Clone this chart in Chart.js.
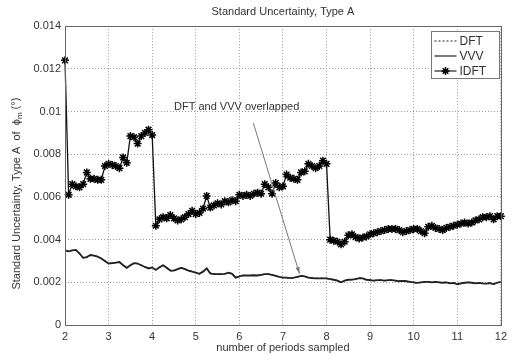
<!DOCTYPE html>
<html>
<head>
<meta charset="utf-8">
<script src="https://cdn.jsdelivr.net/npm/chart.js@4.4.1/dist/chart.umd.min.js"></script>
<style>
  html, body { margin: 0; padding: 0; background: #fff; }
  canvas { display: block; }
</style>
</head>
<body>
<canvas id="chart" width="512" height="361"></canvas>
<script>
// number of periods sampled: 2 .. 12, one sample every 1/12 period
const periods = [];
for (let i = 0; i <= 120; i++) periods.push(2 + i / 12);

const xTicks = [2, 3, 4, 5, 6, 7, 8, 9, 10, 11, 12];
const yTicks = [0, 0.002, 0.004, 0.006, 0.008, 0.01, 0.012, 0.014];

// IDFT (line with * markers)
const idftValues = [
  0.0124, 0.0061, 0.0066, 0.0065, 0.00645, 0.0066, 0.00715, 0.00685, 0.00685, 0.0068,
  0.0068, 0.00745, 0.00755, 0.0075, 0.00745, 0.00735, 0.00785, 0.0076, 0.00885, 0.0088,
  0.0085, 0.00885, 0.009, 0.00915, 0.0089,
  0.00465, 0.00495, 0.00505, 0.005, 0.00515, 0.005, 0.0049, 0.00495, 0.00505, 0.0052,
  0.00535, 0.0052, 0.00525, 0.00545, 0.00605, 0.0055, 0.0056, 0.0057, 0.00565, 0.0058,
  0.00575, 0.00585, 0.0058, 0.0061, 0.00605, 0.0061, 0.00605, 0.00615, 0.0062, 0.00615,
  0.0066, 0.00645, 0.00615, 0.00665, 0.00645, 0.0065, 0.00705, 0.0069, 0.00685, 0.0068,
  0.00715, 0.0072, 0.00755, 0.00745, 0.00735, 0.00745, 0.0077, 0.00755,
  0.004, 0.00395, 0.0039, 0.00378, 0.0039, 0.0042, 0.00425, 0.00412, 0.00405, 0.0041,
  0.00415, 0.00425, 0.0043, 0.00435, 0.0044, 0.00445, 0.0045, 0.0045, 0.0045, 0.00445,
  0.00435, 0.0044, 0.00445, 0.0045, 0.0045, 0.0044, 0.0043, 0.0046, 0.00465, 0.00455,
  0.0045, 0.00445, 0.00455, 0.0046, 0.00465, 0.0047, 0.00475, 0.0048, 0.00475, 0.0048,
  0.0049, 0.00495, 0.00505, 0.00505, 0.0051, 0.00495, 0.0051, 0.0051
];

// VVV (solid line)
const vvvValues = [
  0.0035, 0.00345, 0.0035, 0.00352, 0.00335, 0.00315, 0.00318, 0.00328, 0.00325, 0.0032,
  0.00312, 0.003, 0.00288, 0.0029, 0.00292, 0.00295, 0.0028, 0.00268, 0.0028, 0.0029,
  0.00288, 0.0028, 0.00272, 0.00265, 0.0027, 0.00258, 0.0027, 0.0028, 0.00268, 0.00255,
  0.00255, 0.00262, 0.00268, 0.00262, 0.00255, 0.0025, 0.00245, 0.0024, 0.0025, 0.00265,
  0.00242, 0.00238, 0.00238, 0.00238, 0.0024, 0.00245, 0.0024, 0.00222, 0.00228, 0.00232,
  0.00232, 0.00232, 0.00233, 0.00232, 0.00235, 0.00238, 0.00238, 0.00235, 0.0023, 0.00225,
  0.00222, 0.00222, 0.0022, 0.00222, 0.00225, 0.0023, 0.00228, 0.00222, 0.0022, 0.00218,
  0.00218, 0.00218, 0.00218, 0.00215, 0.00212, 0.00208, 0.002, 0.00208, 0.00212, 0.00213,
  0.00215, 0.0022, 0.00218, 0.00212, 0.0021, 0.00208, 0.0021, 0.0021, 0.00208, 0.0021,
  0.0021, 0.00208, 0.00205, 0.00207, 0.00205, 0.00202, 0.002, 0.00197, 0.002, 0.00202,
  0.00202, 0.002, 0.00202, 0.002, 0.00198, 0.002, 0.00195, 0.00197, 0.00191, 0.00195,
  0.00198, 0.002, 0.00198, 0.00195, 0.00197, 0.00195, 0.00194, 0.00196, 0.00192, 0.00198,
  0.00202
];

// DFT lies exactly under VVV ("DFT and VVV overlapped")
const dftValues = vvvValues;

// annotation text anchor and arrow (data coordinates)
const noteText = 'DFT and VVV overlapped';
const notePos = [4.5, 0.01022];
const arrowFrom = [6.32, 0.00947];
const arrowTo = [7.38, 0.0024];

const FONT = '"Liberation Sans", Arial, sans-serif';
const TEXT = '#333';

const toPoints = vals => vals.map((v, i) => ({ x: periods[i], y: v }));

const overlay = {
  id: 'overlay',
  afterDraw(chart) {
    const { ctx, chartArea: ca, scales: { x, y } } = chart;
    ctx.save();

    // box round the plot
    ctx.strokeStyle = '#666';
    ctx.lineWidth = 1;
    ctx.setLineDash([]);
    ctx.strokeRect(Math.round(ca.left) + 0.5, Math.round(ca.top) + 0.5,
      Math.round(ca.right - ca.left), Math.round(ca.bottom - ca.top));

    // annotation
    ctx.fillStyle = TEXT;
    ctx.font = '11px ' + FONT;
    ctx.textBaseline = 'middle';
    ctx.textAlign = 'left';
    ctx.fillText(noteText, x.getPixelForValue(notePos[0]), y.getPixelForValue(notePos[1]));

    const x1 = x.getPixelForValue(arrowFrom[0]), y1 = y.getPixelForValue(arrowFrom[1]);
    const x2 = x.getPixelForValue(arrowTo[0]), y2 = y.getPixelForValue(arrowTo[1]);
    ctx.strokeStyle = '#777';
    ctx.fillStyle = '#777';
    ctx.beginPath();
    ctx.moveTo(x1, y1);
    ctx.lineTo(x2, y2);
    ctx.stroke();
    const a = Math.atan2(y2 - y1, x2 - x1);
    ctx.beginPath();
    ctx.moveTo(x2, y2);
    ctx.lineTo(x2 - 7 * Math.cos(a - 0.3), y2 - 7 * Math.sin(a - 0.3));
    ctx.lineTo(x2 - 7 * Math.cos(a + 0.3), y2 - 7 * Math.sin(a + 0.3));
    ctx.closePath();
    ctx.fill();

    // legend
    const lw = 68, lh = 47;
    const lx = Math.round(ca.right) - lw - 1.5, ly = Math.round(ca.top) + 5.5;
    ctx.fillStyle = '#fff';
    ctx.fillRect(lx, ly, lw, lh);
    ctx.strokeStyle = '#777';
    ctx.strokeRect(lx, ly, lw, lh);
    const items = [
      { label: 'DFT', dash: [2, 2], star: false },
      { label: 'VVV', dash: [], star: false },
      { label: 'IDFT', dash: [], star: true }
    ];
    ctx.font = '12px ' + FONT;
    items.forEach((it, i) => {
      const cy = ly + 9.5 + i * 15;
      ctx.strokeStyle = '#222';
      ctx.lineWidth = 1.2;
      ctx.setLineDash(it.dash);
      ctx.beginPath();
      ctx.moveTo(lx + 3, cy);
      ctx.lineTo(lx + 25, cy);
      ctx.stroke();
      ctx.setLineDash([]);
      if (it.star) {
        ctx.lineWidth = 1.5;
        ctx.strokeStyle = '#000';
        Chart.helpers.drawPoint(ctx, { pointStyle: 'star', radius: 4, borderWidth: 1.5 }, lx + 14, cy);
      }
      ctx.fillStyle = TEXT;
      ctx.textBaseline = 'middle';
      ctx.fillText(it.label, lx + 28, cy + 0.5);
    });

    // y axis title, with subscript m
    ctx.translate(17, (ca.top + ca.bottom) / 2 + 18);
    ctx.rotate(-Math.PI / 2);
    ctx.fillStyle = TEXT;
    ctx.textAlign = 'left';
    ctx.textBaseline = 'middle';
    const main = 'Standard Uncertainty, Type A  of  ';
    ctx.font = '11px ' + FONT;
    const wMain = ctx.measureText(main).width;
    const wPhi = ctx.measureText('\u03d5').width;
    const wTail = ctx.measureText(' (\u00b0)').width;
    ctx.font = '8px ' + FONT;
    const wSub = ctx.measureText('m').width;
    let px = -(wMain + wPhi + wSub + wTail) / 2;
    ctx.font = '11px ' + FONT;
    ctx.fillText(main, px, 0); px += wMain;
    ctx.fillText('\u03d5', px, 0); px += wPhi;
    ctx.font = '8px ' + FONT;
    ctx.fillText('m', px, 3); px += wSub;
    ctx.font = '11px ' + FONT;
    ctx.fillText(' (\u00b0)', px, -1);

    ctx.restore();
  }
};

Chart.defaults.font.family = FONT;
Chart.defaults.color = TEXT;

new Chart(document.getElementById('chart'), {
  type: 'line',
  data: {
    datasets: [
      {
        label: 'DFT',
        data: toPoints(dftValues),
        borderColor: '#222',
        borderWidth: 1.2,
        borderDash: [3, 2],
        pointRadius: 0,
        tension: 0
      },
      {
        label: 'VVV',
        data: toPoints(vvvValues),
        borderColor: '#222',
        borderWidth: 1.8,
        pointRadius: 0,
        tension: 0
      },
      {
        label: 'IDFT',
        data: toPoints(idftValues),
        borderColor: '#111',
        borderWidth: 1.3,
        pointStyle: 'star',
        pointRadius: 4,
        pointBorderWidth: 1.5,
        pointBorderColor: '#000',
        pointBackgroundColor: '#000',
        tension: 0,
        clip: false
      }
    ]
  },
  options: {
    responsive: false,
    animation: false,
    devicePixelRatio: 1,
    layout: { padding: { left: 0, right: 6, top: 1, bottom: 0 } },
    plugins: {
      legend: { display: false },
      tooltip: { enabled: false },
      title: {
        display: true,
        fullSize: false,
        text: 'Standard Uncertainty, Type A',
        color: TEXT,
        font: { size: 11, weight: 'normal' },
        padding: { top: 4, bottom: 8 }
      }
    },
    scales: {
      x: {
        type: 'linear',
        min: 2,
        max: 12,
        afterBuildTicks: s => { s.ticks = xTicks.map(v => ({ value: v })); },
        ticks: { font: { size: 11 }, padding: 5, color: TEXT, maxRotation: 0 },
        grid: { color: '#999', lineWidth: 1, drawTicks: false },
        border: { display: false, dash: [1, 2] },
        title: {
          display: true,
          text: 'number of periods sampled',
          color: TEXT,
          font: { size: 11 },
          padding: { top: 0, bottom: 6 }
        },
        afterFit: s => { s.height = 36; }
      },
      y: {
        min: 0,
        max: 0.014,
        afterBuildTicks: s => { s.ticks = yTicks.map(v => ({ value: v })); },
        ticks: {
          font: { size: 11 },
          padding: 4,
          color: TEXT,
          callback: v => String(+v.toFixed(3))
        },
        grid: { color: '#999', lineWidth: 1, drawTicks: false },
        border: { display: false, dash: [1, 2] },
        afterFit: s => { s.width = 65; }
      }
    }
  },
  plugins: [overlay]
});
</script>
</body>
</html>
